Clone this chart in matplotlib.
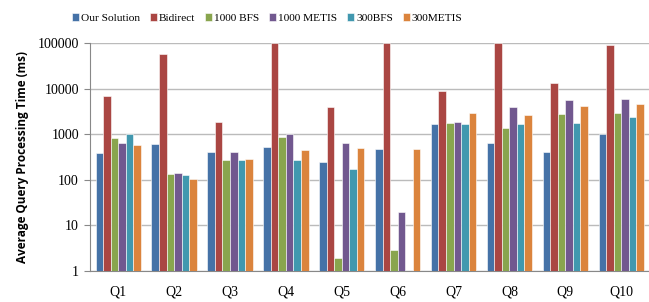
import numpy as np
import matplotlib.pyplot as plt

queries = ['Q1', 'Q2', 'Q3', 'Q4', 'Q5', 'Q6', 'Q7', 'Q8', 'Q9', 'Q10']
series = ['Our Solution', 'Bidirect', '1000 BFS', '1000 METIS', '300BFS', '300METIS']
colors = ['#4572A7', '#AA4643', '#89A54E', '#71588F', '#4198AF', '#DB843D']

our_solution = [382, 613, 409, 518, 244, 480, 1690, 630, 402, 1000]
bidirect = [6840, 59300, 1900, 100000, 3980, 100000, 9120, 100000, 13400, 91900]
bfs_1000 = [845, 133, 275, 874, 1.93, 2.9, 1800, 1400, 2800, 2990]
metis_1000 = [656, 140, 409, 1000, 630, 19.5, 1900, 3920, 5780, 5980]
bfs_300 = [1030, 129, 270, 275, 176, np.nan, 1690, 1690, 1800, 2440]
metis_300 = [583, 103, 280, 460, 490, 480, 2900, 2620, 4270, 4560]

data = [our_solution, bidirect, bfs_1000, metis_1000, bfs_300, metis_300]

plt.rcParams['font.family'] = ['Liberation Serif', 'DejaVu Serif']

fig = plt.figure(figsize=(6.49, 3.02), dpi=100)
ax = fig.add_axes([0.1387, 0.1036, 0.861, 0.753])

x = np.arange(len(queries))
w = 0.135
for i, (name, vals) in enumerate(zip(series, data)):
    ax.bar(x + (i - 2.5) * w, vals, w, color=colors[i], label=name,
           edgecolor='white', linewidth=0.4, zorder=3)

ax.set_yscale('log')
ax.set_ylim(1, 100000)
ax.set_xlim(-0.505, len(queries) - 0.505)
ax.set_yticks([1, 10, 100, 1000, 10000, 100000])
ax.set_yticklabels(['1', '10', '100', '1000', '10000', '100000'])
ax.minorticks_off()
ax.set_xticks(x)
ax.set_xticklabels(queries)
ax.tick_params(axis='x', length=0, pad=11, labelsize=10)
ax.tick_params(axis='y', length=4, color='#888888', labelsize=10, pad=4)
ax.grid(axis='y', color='#bbbbbb', linewidth=1, zorder=0)
for s in ['top', 'right']:
    ax.spines[s].set_visible(False)
for s in ['left', 'bottom']:
    ax.spines[s].set_color('#888888')
ax.set_ylabel('Average Query Processing Time (ms)', family='Open Sans',
              fontweight='bold', fontsize=8.5, labelpad=6)

fig.legend(loc='upper center', bbox_to_anchor=(0.412, 0.99), ncol=6, frameon=False,
           fontsize=8.2, handlelength=0.6, handleheight=0.6, handletextpad=0.2,
           columnspacing=0.85)

fig.savefig('out.png', dpi=100)
